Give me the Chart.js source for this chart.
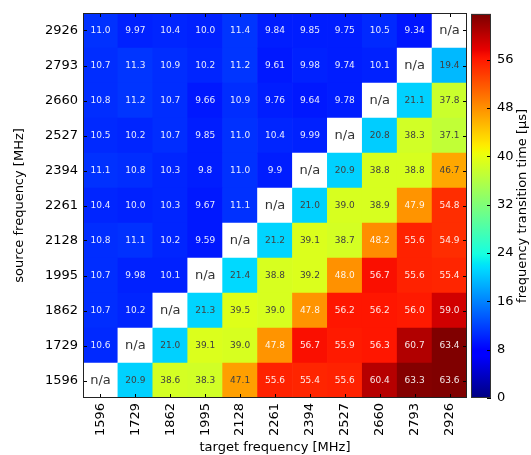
<!DOCTYPE html>
<html>
<head>
<meta charset="utf-8">
<script src="https://cdn.jsdelivr.net/npm/chart.js@4"></script>
<style>
  html, body { margin: 0; padding: 0; background: #ffffff; }
  #wrap { position: relative; width: 531px; height: 455px; }
  #wrap canvas { position: absolute; left: 0; top: 0; }
</style>
</head>
<body>
<div id="wrap">
  <canvas id="heat" width="531" height="455"></canvas>
  <canvas id="scalebar" width="531" height="455"></canvas>
</div>
<script>
// Frequencies (MHz)
const targetFreqs = [1596, 1729, 1862, 1995, 2128, 2261, 2394, 2527, 2660, 2793, 2926];
const sourceFreqs = [1596, 1729, 1862, 1995, 2128, 2261, 2394, 2527, 2660, 2793, 2926];

// Transition time (µs) from each source frequency to every target frequency; null = n/a
const from1596 = [null, 20.9, 38.6, 38.3, 47.1, 55.6, 55.4, 55.6, 60.4, 63.3, 63.6];
const from1729 = [10.6, null, 21.0, 39.1, 39.0, 47.8, 56.7, 55.9, 56.3, 60.7, 63.4];
const from1862 = [10.7, 10.2, null, 21.3, 39.5, 39.0, 47.8, 56.2, 56.2, 56.0, 59.0];
const from1995 = [10.7, 9.98, 10.1, null, 21.4, 38.8, 39.2, 48.0, 56.7, 55.6, 55.4];
const from2128 = [10.8, 11.1, 10.2, 9.59, null, 21.2, 39.1, 38.7, 48.2, 55.6, 54.9];
const from2261 = [10.4, 10.0, 10.3, 9.67, 11.1, null, 21.0, 39.0, 38.9, 47.9, 54.8];
const from2394 = [11.1, 10.8, 10.3, 9.8, 11.0, 9.9, null, 20.9, 38.8, 38.8, 46.7];
const from2527 = [10.5, 10.2, 10.7, 9.85, 11.0, 10.4, 9.99, null, 20.8, 38.3, 37.1];
const from2660 = [10.8, 11.2, 10.7, 9.66, 10.9, 9.76, 9.64, 9.78, null, 21.1, 37.8];
const from2793 = [10.7, 11.3, 10.9, 10.2, 11.2, 9.61, 9.98, 9.74, 10.1, null, 19.4];
const from2926 = [11.0, 9.97, 10.4, 10.0, 11.4, 9.84, 9.85, 9.75, 10.5, 9.34, null];

const rows = [from1596, from1729, from1862, from1995, from2128, from2261,
              from2394, from2527, from2660, from2793, from2926];

// Colour scale limits and colour bar ticks
const V_MIN = 0;
const V_MAX = 63.6;
const scaleTicks = [0, 8, 16, 24, 32, 40, 48, 56];

const FONT = "'DejaVu Sans', 'Liberation Sans', sans-serif";

// matplotlib "jet" colormap (256-level lookup)
function lerpSeg(seg, t) {
  for (let i = 1; i < seg.length; i++) {
    if (t <= seg[i][0]) {
      const [x0, y0] = seg[i - 1], [x1, y1] = seg[i];
      return y0 + (y1 - y0) * (t - x0) / (x1 - x0);
    }
  }
  return seg[seg.length - 1][1];
}
const JET_R = [[0, 0], [0.35, 0], [0.66, 1], [0.89, 1], [1, 0.5]];
const JET_G = [[0, 0], [0.125, 0], [0.375, 1], [0.64, 1], [0.91, 0], [1, 0]];
const JET_B = [[0, 0.5], [0.11, 1], [0.34, 1], [0.65, 0], [1, 0]];
function jetColor(t) {
  t = Math.max(0, Math.min(1, t));
  const idx = Math.min(255, Math.floor(t * 256));
  const q = idx / 255;
  const r = Math.round(lerpSeg(JET_R, q) * 255);
  const g = Math.round(lerpSeg(JET_G, q) * 255);
  const b = Math.round(lerpSeg(JET_B, q) * 255);
  return `rgb(${r},${g},${b})`;
}
const norm = v => (v - V_MIN) / (V_MAX - V_MIN);

function fmt(v) {
  return Number.isInteger(v) ? v.toFixed(1) : String(v);
}

// One stacked bar segment per cell: each source row is a dataset of unit-height segments
const datasets = sourceFreqs.map((f, i) => ({
  label: String(f),
  data: targetFreqs.map(() => 1),
  cellValues: rows[i],
  backgroundColor: rows[i].map(v => v === null ? '#ffffff' : jetColor(norm(v))),
  borderWidth: 0,
  barPercentage: 1,
  categoryPercentage: 1
}));

// Cell annotations, frame and inward tick marks
const heatDecor = {
  id: 'heatDecor',
  afterDatasetsDraw(chart) {
    const ctx = chart.ctx;
    ctx.save();
    ctx.textAlign = 'center';
    ctx.textBaseline = 'middle';
    chart.data.datasets.forEach((ds, di) => {
      const meta = chart.getDatasetMeta(di);
      meta.data.forEach((bar, j) => {
        const v = ds.cellValues[j];
        const cx = bar.x;
        const cy = (bar.y + bar.base) / 2;
        if (v === null) {
          ctx.font = `13px ${FONT}`;
          ctx.fillStyle = '#333333';
          ctx.fillText('n/a', cx, cy + 0.5);
        } else {
          const t = norm(v);
          ctx.font = `9px ${FONT}`;
          ctx.fillStyle = (t < 0.25 || t > 0.75) ? 'rgba(255,255,255,0.9)' : '#404040';
          ctx.fillText(fmt(v), cx, cy + 0.5);
        }
      });
    });
    ctx.restore();
  },
  afterDraw(chart) {
    const ctx = chart.ctx;
    const {left, right, top, bottom} = chart.chartArea;
    const xs = chart.scales.x, ys = chart.scales.y;
    const TL = 4;
    ctx.save();
    ctx.strokeStyle = '#000000';
    ctx.lineWidth = 1;
    ctx.beginPath();
    xs.ticks.forEach((t, i) => {
      const x = Math.round(xs.getPixelForTick(i)) + 0.5;
      ctx.moveTo(x, bottom); ctx.lineTo(x, bottom - TL);
      ctx.moveTo(x, top); ctx.lineTo(x, top + TL);
    });
    ys.ticks.forEach((t, i) => {
      const y = Math.round(ys.getPixelForTick(i)) + 0.5;
      ctx.moveTo(left, y); ctx.lineTo(left + TL, y);
      ctx.moveTo(right, y); ctx.lineTo(right - TL, y);
    });
    ctx.stroke();
    ctx.strokeStyle = '#222222';
    ctx.strokeRect(Math.round(left) + 0.5, Math.round(top) + 0.5,
                   Math.round(right - left) - 1, Math.round(bottom - top) - 1);
    ctx.restore();
  }
};

new Chart(document.getElementById('heat'), {
  type: 'bar',
  data: { labels: targetFreqs.map(String), datasets },
  options: {
    responsive: false,
    animation: false,
    devicePixelRatio: 1,
    layout: { padding: { left: 0, top: 13, right: 64, bottom: 0 } },
    plugins: { legend: { display: false }, tooltip: { enabled: false } },
    scales: {
      x: {
        type: 'category',
        stacked: true,
        grid: { display: false, drawTicks: false },
        border: { display: false },
        ticks: {
          autoSkip: false, maxRotation: 90, minRotation: 90, padding: 5,
          color: '#000000', font: { family: FONT, size: 13 }
        },
        title: {
          display: true, text: 'target frequency [MHz]', color: '#000000',
          font: { family: FONT, size: 13 }, padding: { top: 0, bottom: 0 }
        },
        afterFit(s) { s.height = 57; }
      },
      y: {
        type: 'linear',
        stacked: true,
        min: 0,
        max: sourceFreqs.length,
        afterBuildTicks(s) { s.ticks = sourceFreqs.map((f, i) => ({ value: i + 0.5 })); },
        grid: { display: false, drawTicks: false },
        border: { display: false },
        ticks: {
          padding: 5, color: '#000000', font: { family: FONT, size: 13 },
          callback: v => String(sourceFreqs[Math.floor(v)])
        },
        title: {
          display: true, text: 'source frequency [MHz]', color: '#000000',
          font: { family: FONT, size: 13 }, padding: { top: 12, bottom: 0 }
        },
        afterFit(s) { s.width = 83; }
      }
    }
  },
  plugins: [heatDecor]
});

// Colour bar: a single bar spanning the value range, filled with the colormap
const scaleDecor = {
  id: 'scaleDecor',
  afterDraw(chart) {
    const ctx = chart.ctx;
    const {left, right, top, bottom} = chart.chartArea;
    const ys = chart.scales.y;
    ctx.save();
    ctx.strokeStyle = '#000000';
    ctx.lineWidth = 1;
    ctx.beginPath();
    ys.ticks.forEach((t, i) => {
      const y = Math.round(ys.getPixelForTick(i)) + 0.5;
      ctx.moveTo(right, y); ctx.lineTo(right - 4, y);
    });
    ctx.stroke();
    ctx.strokeStyle = '#333333';
    ctx.strokeRect(Math.round(left) + 0.5, Math.round(top) + 0.5,
                   Math.round(right - left) - 1, Math.round(bottom - top) - 1);
    ctx.fillStyle = '#000000';
    ctx.font = `13px ${FONT}`;
    ctx.textAlign = 'center';
    ctx.textBaseline = 'middle';
    ctx.translate(523, (top + bottom) / 2);
    ctx.rotate(-Math.PI / 2);
    ctx.fillText('frequency transition time [\u03bcs]', 0, 0);
    ctx.restore();
  }
};

new Chart(document.getElementById('scalebar'), {
  type: 'bar',
  data: {
    labels: [''],
    datasets: [{
      data: [V_MAX],
      borderWidth: 0,
      barPercentage: 1,
      categoryPercentage: 1,
      backgroundColor(c) {
        const chart = c.chart;
        if (!chart.chartArea) return '#000080';
        const ys = chart.scales.y;
        const g = chart.ctx.createLinearGradient(0, ys.getPixelForValue(V_MIN), 0, ys.getPixelForValue(V_MAX));
        for (let k = 0; k <= 128; k++) g.addColorStop(k / 128, jetColor(k / 128));
        return g;
      }
    }]
  },
  options: {
    responsive: false,
    animation: false,
    devicePixelRatio: 1,
    layout: { padding: { left: 471, top: 13, right: 0, bottom: 57 } },
    plugins: { legend: { display: false }, tooltip: { enabled: false } },
    scales: {
      x: { display: false },
      y: {
        position: 'right',
        min: V_MIN,
        max: V_MAX,
        afterBuildTicks(s) { s.ticks = scaleTicks.map(v => ({ value: v })); },
        grid: { display: false, drawTicks: false },
        border: { display: false },
        ticks: { padding: 6, color: '#000000', font: { family: FONT, size: 13 } },
        afterFit(s) { s.width = 40; }
      }
    }
  },
  plugins: [scaleDecor]
});
</script>
</body>
</html>
